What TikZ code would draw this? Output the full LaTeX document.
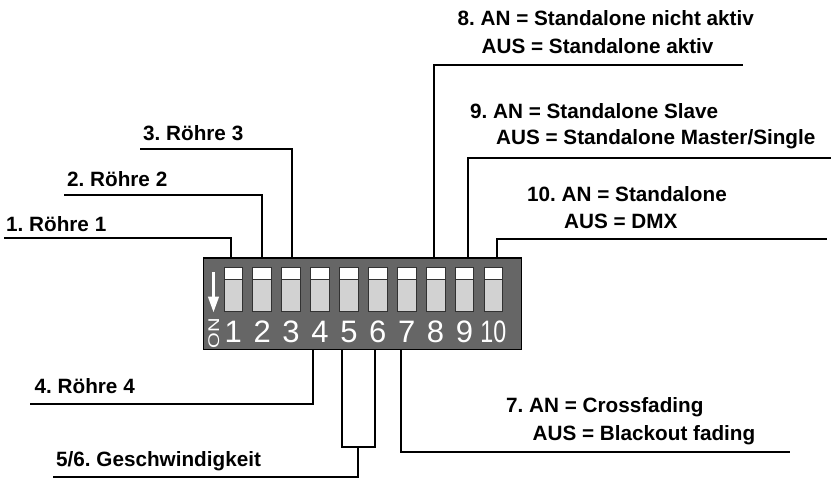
\documentclass[tikz,border=0pt]{standalone}
\usepackage{fontspec}
\setmainfont{Liberation Sans}
\definecolor{panelgray}{RGB}{102,102,102}
\definecolor{swgray}{RGB}{210,210,210}
\definecolor{swline}{RGB}{50,50,50}
\frenchspacing
\begin{document}
\begin{tikzpicture}[x=1pt,y=-1pt,
  lead/.style={draw=black,line width=2pt},
  lbl/.style={anchor=base west,inner sep=0pt,font=\bfseries\fontsize{20.7}{25}\selectfont},
  digit/.style={anchor=base,inner sep=0pt,text=white,font=\fontsize{31}{32}\selectfont},
  panelbox/.style={draw=black,line width=1.3pt,fill=panelgray,inner sep=0pt}]
\useasboundingbox (0,0) rectangle (831,479);
% panel
\node[panelbox,minimum width=318pt,minimum height=91.5pt] (panel) at (362.5,303.75) {};
% switches and digits
\foreach \i in {1,...,10}{
  \pgfmathsetmacro{\cx}{233.3+28.9*(\i-1)}
  \fill[swgray] (\cx-9.35,279) rectangle (\cx+9.35,311.7);
  \fill[white] (\cx-9.35,267.7) rectangle (\cx+9.35,279);
  \draw[swline,line width=0.8pt] (\cx-9.35,267.7) rectangle (\cx+9.35,311.7);
  \draw[swline,line width=0.8pt] (\cx-9.35,279) -- (\cx+9.35,279);
  \coordinate (s\i) at (\cx,311.7);
}
\foreach \i in {1,...,9}{
  \node[digit] (d\i) at ([yshift=-30.5pt]s\i) {\i};
}
\node[digit] (d10) at ([yshift=-30.5pt]s10) {\scalebox{0.75}[1]{10}};
% ON arrow
\fill[white] (212,271.5) rectangle (215,297);
\fill[white] (207.8,296.5) -- (219.2,296.5) -- (213.5,312) -- cycle;
\node[rotate=90,inner sep=0pt,text=white,font=\fontsize{15.5}{16}\selectfont] (on) at (213.8,333) {\scalebox{1.3}[1]{ON}};
% top leaders
\coordinate (t1) at (231,258);   \coordinate (e1) at (4,238.3);
\coordinate (t2) at (262,258);   \coordinate (e2) at (64,195);
\coordinate (t3) at (292,258);   \coordinate (e3) at (140,149.3);
\coordinate (t8) at (434.3,258); \coordinate (e8) at (742.5,65);
\coordinate (t9) at (468.3,258); \coordinate (e9) at (831,158.3);
\coordinate (t10) at (496.5,258);\coordinate (e10) at (826.7,238.6);
\foreach \i in {1,2,3,8,9,10}{ \draw[lead] (t\i) |- (e\i); }
% bottom leaders
\coordinate (b4) at (313.3,349.5); \coordinate (e4) at (30,404.3);
\coordinate (b5) at (341.7,349.5); \coordinate (b6) at (375,349.5);
\coordinate (j56) at (358.3,447.3); \coordinate (e56) at (53,476.7);
\coordinate (b7) at (400.5,349.5); \coordinate (e7) at (790,451.7);
\draw[lead] (b4) |- (e4);
\draw[lead] (b5) |- (j56) -| (b6);
\draw[lead] (j56) |- (e56);
\draw[lead] (b7) |- (e7);
% labels
\node[lbl] (l1) at (6,231.7) {1. Röhre 1};
\node[lbl] (l2) at (67,186) {2. Röhre 2};
\node[lbl] (l3) at (143,140) {3. Röhre 3};
\node[lbl] (l4) at (34.5,393.3) {4. Röhre 4};
\node[lbl] (l56) at (56,466) {5/6. Geschwindigkeit};
\node[lbl] (l7a) at (506,412.7) {7. AN = Crossfading};
\node[lbl] (l7b) at (532.5,440) {AUS = Blackout fading};
\node[lbl] (l8a) at (457.5,25) {8. AN = Standalone nicht aktiv};
\node[lbl] (l8b) at (481.5,53) {AUS = Standalone aktiv};
\node[lbl] (l9a) at (470,118) {9. AN = Standalone Slave};
\node[lbl] (l9b) at (496,144.5) {AUS = Standalone Master/Single};
\node[lbl] (l10a) at (527,201.7) {10. AN = Standalone};
\node[lbl] (l10b) at (564,228.3) {AUS = DMX};
\end{tikzpicture}
\end{document}
